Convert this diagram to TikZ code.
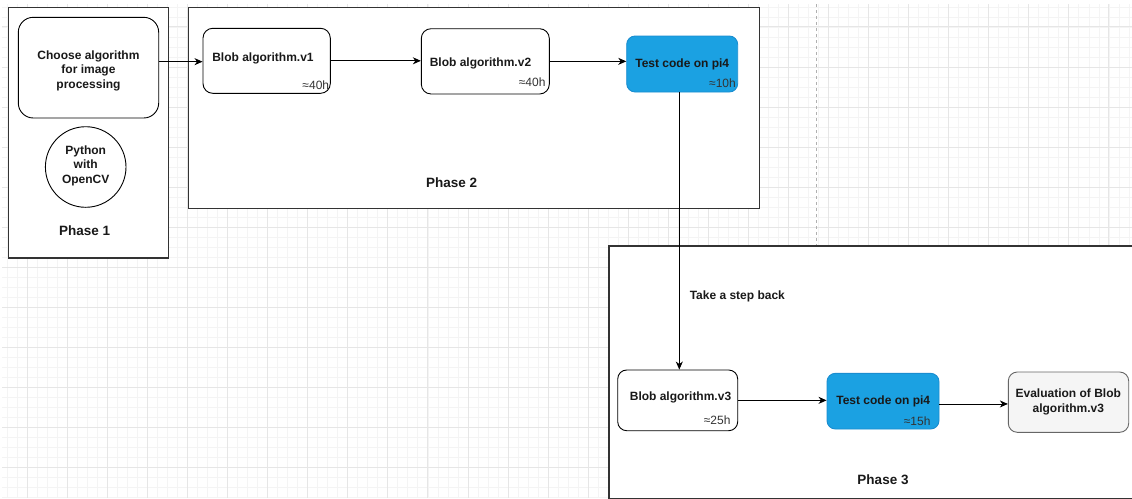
\documentclass[tikz,border=0pt]{standalone}
\usepackage{fontspec}
\setmainfont{Liberation Sans}
\usetikzlibrary{arrows.meta}

\definecolor{gridmajor}{HTML}{E6E6E6}
\definecolor{gridminor}{HTML}{F4F4F4}
\definecolor{pageline}{HTML}{B0B0B0}
\definecolor{piFill}{HTML}{1BA1E2}
\definecolor{piLine}{HTML}{1A8DD0}
\definecolor{evalFill}{HTML}{F5F5F5}
\definecolor{evalLine}{HTML}{666666}
\definecolor{hint}{HTML}{333333}
\definecolor{frameLine}{HTML}{333333}

\begin{document}
\begin{tikzpicture}[
  x=1pt, y=-1pt,
  font=\fontsize{12}{14.4}\selectfont\bfseries,
  minorline/.style={draw=gridminor, line width=0.8pt},
  majorline/.style={draw=gridmajor, line width=0.9pt},
  pagebreak/.style={draw=pageline, line width=0.9pt, dash pattern=on 3pt off 3pt},
  frame/.style={rectangle, draw=frameLine, line width=1.1pt, fill=white, inner sep=0pt},
  task/.style={rectangle, draw=black, line width=0.9pt, fill=white, rounded corners=#1, inner sep=0pt},
  pitask/.style={rectangle, draw=piLine, line width=0.9pt, fill=piFill, rounded corners=8.4pt, inner sep=0pt},
  evaltask/.style={rectangle, draw=evalLine, line width=0.9pt, fill=evalFill, rounded corners=9pt, inner sep=0pt},
  txt/.style={inner sep=0pt, align=center, text=black!90},
  phasetxt/.style={inner sep=0pt, font=\fontsize{13.5}{16}\selectfont\bfseries, text=black!90},
  hours/.style={inner sep=0pt, anchor=east, font=\fontsize{12}{14}\selectfont, text=hint},
  link/.style={-{Stealth[length=8pt, width=7pt, inset=2.5pt]}, line width=0.9pt, draw=black}
]
\useasboundingbox (0,0) rectangle (1132,498);
\clip (0,0) rectangle (1132,498);
\fill[white] (0,0) rectangle (1132,498);

% background grid: 10px minor steps, every fourth line stronger
\foreach \i in {0,...,113} {
  \draw[minorline] (7.27+10.015*\i,4) -- (7.27+10.015*\i,498);
}
\foreach \j in {0,...,49} {
  \draw[minorline] (2,6.9+10.015*\j) -- (1132,6.9+10.015*\j);
}
\foreach \i in {0,...,27} {
  \draw[majorline] (27.3+40.06*\i,4) -- (27.3+40.06*\i,498);
}
\foreach \j in {0,...,11} {
  \draw[majorline] (2,26.9+40.06*\j) -- (1132,26.9+40.06*\j);
}

% page boundary
\draw[pagebreak] (816.7,4) -- (816.7,250);

% phase containers
\node[frame, minimum width=160.4pt, minimum height=250.7pt] (ph1) at (88.5,132.65) {};
\node[frame, minimum width=570.6pt, minimum height=201pt] (ph2) at (474,107.8) {};
\node[frame, minimum width=536pt, minimum height=252.6pt] (ph3) at (877,372.3) {};

% phase 1
\node[task=15pt, minimum width=140.4pt, minimum height=100.7pt] (choose) at (88.5,67.65) {};
\node[txt] (chooseT) at (88.5,70.7) {Choose algorithm\\for image\\processing};
\node[circle, draw=black, line width=0.9pt, fill=white, minimum size=80.6pt, inner sep=0pt] (py) at (85.7,167) {};
\node[txt] (pyT) at (85.7,165.7) {Python\\with\\OpenCV};
\node[phasetxt] (ph1T) at (84.7,231) {Phase 1};

% phase 2
\node[task=9.75pt, minimum width=127.3pt, minimum height=65pt] (v1) at (266.65,60.8) {};
\node[txt] (v1T) at (263,58) {Blob algorithm.v1};
\node[hours] (v1H) at (329.3,85.7) {≈40h};

\node[task=9.75pt, minimum width=128pt, minimum height=65.3pt] (v2) at (485.3,61.35) {};
\node[txt] (v2T) at (480.5,63.3) {Blob algorithm.v2};
\node[hours] (v2H) at (545.7,82.7) {≈40h};

\node[pitask, minimum width=111pt, minimum height=56pt] (t1) at (682.2,64) {};
\node[txt] (t1T) at (682.2,64) {Test code on pi4};
\node[hours] (t1H) at (736,83.3) {≈10h};

\node[phasetxt] (ph2T) at (451.7,183) {Phase 2};

% phase 3
\node[task=9pt, minimum width=120pt, minimum height=60.7pt] (v3) at (677.7,400.35) {};
\node[txt] (v3T) at (680.5,397.7) {Blob algorithm.v3};
\node[hours] (v3H) at (730.7,420.3) {≈25h};

\node[pitask, minimum width=112pt, minimum height=55.7pt] (t2) at (883,401.15) {};
\node[txt] (t2T) at (883.2,401) {Test code on pi4};
\node[hours] (t2H) at (930.7,421) {≈15h};

\node[evaltask, minimum width=120.4pt, minimum height=60.3pt] (ev) at (1068.5,402.15) {};
\node[txt] (evT) at (1068.3,401.8) {Evaluation of Blob\\algorithm.v3};

\node[phasetxt] (ph3T) at (883,479.3) {Phase 3};

% connectors
\draw[link] ([yshift=6pt]choose.east) -- ([yshift=6pt]choose.east -| v1.west);
\draw[link] (v1.east) -- (v1.east -| v2.west);
\draw[link] (v2.east) -- (v2.east -| t1.west);
\draw[link] ([xshift=-2.9pt]t1.south) -- ([xshift=1.6pt]v3.north)
  node[pos=0.735, inner sep=0pt, anchor=west, xshift=10pt, text=black!90] (back) {Take a step back};
\draw[link] (v3.east) -- (v3.east -| t2.west);
\draw[link] ([yshift=-2.8pt]t2.east) -- ([yshift=-2.8pt]t2.east -| ev.west);
\end{tikzpicture}
\end{document}
